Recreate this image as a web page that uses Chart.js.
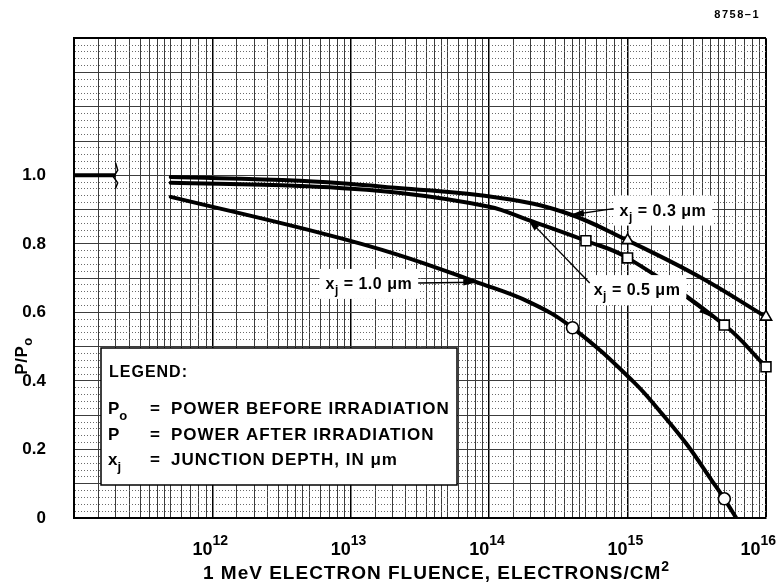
<!DOCTYPE html>
<html>
<head>
<meta charset="utf-8">
<script src="https://cdn.jsdelivr.net/npm/chart.js@4.4.1/dist/chart.umd.min.js"></script>
<style>
html,body{margin:0;padding:0;background:#fff;}
canvas{display:block;}
</style>
</head>
<body>
<canvas id="c" width="779" height="587"></canvas>
<script>
const FONT = '"Liberation Sans", Arial, Helvetica, sans-serif';

// ---- Data ----
// x_j = 0.3 um curve (fluence, P/Po)
const curve03X = [5e11, 4.3e12, 2.2e13, 1.2e14, 3.6e14, 1e15, 3.3e15, 1e16];
const curve03Y = [0.995, 0.984, 0.963, 0.934, 0.890, 0.810, 0.704, 0.587];
// x_j = 0.5 um curve
const curve05X = [5e11, 4.3e12, 2.2e13, 1e14, 1.9e14, 5e14, 1e15, 5e15, 1e16];
const curve05Y = [0.978, 0.969, 0.949, 0.908, 0.870, 0.809, 0.759, 0.563, 0.441];
// x_j = 1.0 um curve
const curve10X = [5e11, 6e12, 2.2e13, 8e13, 1.95e14, 4e14, 1.1e15, 1.8e15, 2.7e15, 4.05e15, 5e15, 6.1e15];
const curve10Y = [0.937, 0.832, 0.768, 0.689, 0.630, 0.555, 0.398, 0.301, 0.213, 0.110, 0.056, 0.0];
// measured points (markers)
const triX = [1e15, 1e16];
const triY = [0.810, 0.587];
const sqX = [5e14, 1e15, 5e15, 1e16];
const sqY = [0.809, 0.759, 0.563, 0.441];
const circX = [4e14, 5e15];
const circY = [0.555, 0.056];
// reference level 1.0 with axis-break mark
const refX = [1e11, 2.0e11];
const refY = [1.0, 1.0];
const breakX = [2.0e11, 2.07e11, 1.93e11, 2.07e11, 2.0e11];
const breakY = [1.035, 1.015, 0.995, 0.978, 0.963];

// axis ticks
const gridMultipliers = [1, 1.5, 2, 2.5, 3, 3.5, 4, 4.5, 5, 6, 7, 8, 9];
const gridDecades = [11, 12, 13, 14, 15];
const labeledExps = [12, 13, 14, 15, 16];
const yLabelValues = [0, 0.2, 0.4, 0.6, 0.8, 1.0];

// curve annotations: label, box centre (data coords), arrow tips (data coords)
const annotLabels = ['0.3', '0.5', '1.0'];
const annotBoxX = [1.8e15, 1.17e15, 1.35e13];
const annotBoxY = [0.897, 0.665, 0.683];
const annotTips = [
  [[3.84e14, 0.884, 'left']],
  [[1.88e14, 0.875, 'topleft'], [4.1e15, 0.585, 'right']],
  [[8.2e13, 0.688, 'right']]
];

// ---- build ticks ----
const xTickValues = [];
gridDecades.forEach(d => gridMultipliers.forEach(m => xTickValues.push(m * Math.pow(10, d))));
xTickValues.push(1e16);
const yTickValues = [];
for (let i = 0; i <= 70; i++) yTickValues.push(i / 50);

const pts = (xs, ys) => xs.map((x, i) => ({x: x, y: ys[i]}));

function isDecade(v) {
  const l = Math.log10(v);
  return Math.abs(l - Math.round(l)) < 1e-6;
}

function drawParts(ctx, parts, x, y, align, spacing) {
  ctx.save();
  ctx.letterSpacing = (spacing || 0) + 'px';
  ctx.textAlign = 'left';
  let total = 0;
  parts.forEach(p => {
    ctx.font = 'bold ' + p.size + 'px ' + FONT;
    p.w = ctx.measureText(p.t).width;
    total += p.w;
  });
  let cx = align === 'center' ? x - total / 2 : (align === 'right' ? x - total : x);
  parts.forEach(p => {
    ctx.font = 'bold ' + p.size + 'px ' + FONT;
    ctx.fillText(p.t, cx, y + (p.dy || 0));
    cx += p.w;
  });
  ctx.restore();
  return total;
}

function arrow(ctx, x1, y1, x2, y2, head) {
  ctx.beginPath();
  ctx.moveTo(x1, y1);
  ctx.lineTo(x2, y2);
  ctx.lineWidth = 1.4;
  ctx.strokeStyle = '#000';
  ctx.stroke();
  if (head) {
    const a = Math.atan2(y2 - y1, x2 - x1);
    const L = 14, W = 3.2;
    ctx.beginPath();
    ctx.moveTo(x2, y2);
    ctx.lineTo(x2 - L * Math.cos(a) + W * Math.sin(a), y2 - L * Math.sin(a) - W * Math.cos(a));
    ctx.lineTo(x2 - L * Math.cos(a) - W * Math.sin(a), y2 - L * Math.sin(a) + W * Math.cos(a));
    ctx.closePath();
    ctx.fillStyle = '#000';
    ctx.fill();
  }
}

const decorPlugin = {
  id: 'decor',
  afterDraw(chart) {
    const ctx = chart.ctx;
    const xs = chart.scales.x, ys = chart.scales.y;
    const ca = chart.chartArea;
    ctx.save();
    ctx.fillStyle = '#000';
    ctx.textBaseline = 'alphabetic';

    // x decade labels 10^n
    labeledExps.forEach(e => {
      let px = xs.getPixelForValue(Math.pow(10, e));
      ctx.font = 'bold 14px ' + FONT;
      const wE = ctx.measureText(String(e)).width;
      if (px + wE > chart.width - 3) px = chart.width - 3 - wE;
      ctx.font = 'bold 18px ' + FONT;
      ctx.textAlign = 'right';
      ctx.fillText('10', px, ca.bottom + 37);
      ctx.font = 'bold 14px ' + FONT;
      ctx.textAlign = 'left';
      ctx.fillText(String(e), px, ca.bottom + 27);
    });

    // x title
    drawParts(ctx, [
      {t: '1 MeV ELECTRON FLUENCE, ELECTRONS/CM', size: 19},
      {t: '2', size: 14, dy: -8}
    ], 203, ca.bottom + 61, 'left', 1);

    // y title (rotated)
    ctx.save();
    ctx.translate(21, 356);
    ctx.rotate(-Math.PI / 2);
    drawParts(ctx, [
      {t: 'P/P', size: 17},
      {t: 'o', size: 13, dy: 5}
    ], 0, 6, 'center', 0.5);
    ctx.restore();

    // figure number
    drawParts(ctx, [{t: '8758\u20131', size: 11}], 760, 18, 'right', 1.5);

    // annotations
    annotLabels.forEach((lab, i) => {
      const cx = xs.getPixelForValue(annotBoxX[i]);
      const cy = ys.getPixelForValue(annotBoxY[i]);
      const parts = [
        {t: 'x', size: 16},
        {t: 'j', size: 12, dy: 5},
        {t: ' = ' + lab + ' \u03bcm', size: 16}
      ];
      ctx.save();
      ctx.letterSpacing = '0.5px';
      let w = 0;
      parts.forEach(p => { ctx.font = 'bold ' + p.size + 'px ' + FONT; w += ctx.measureText(p.t).width; });
      ctx.restore();
      const bw = w + 12, bh = 30;
      const bx = cx - bw / 2, by = cy - bh / 2;
      ctx.fillStyle = '#fff';
      ctx.fillRect(bx, by, bw, bh);
      ctx.fillStyle = '#000';
      drawParts(ctx, parts, cx, cy + 5, 'center', 0.5);
      annotTips[i].forEach(t => {
        const tx = xs.getPixelForValue(t[0]);
        const ty = ys.getPixelForValue(t[1]);
        let sx, sy;
        if (t[2] === 'left') { sx = bx; sy = cy - 2; }
        else if (t[2] === 'topleft') { sx = bx + 2; sy = by + 8; }
        else { sx = bx + bw; sy = (i === 1) ? cy + 8 : cy - 1; }
        arrow(ctx, sx, sy, tx, ty, true);
      });
    });

    // legend box
    const lx = ca.left + 27, ly = ca.bottom - 170, lw = 356, lh = 137;
    ctx.fillStyle = '#fff';
    ctx.fillRect(lx, ly, lw, lh);
    ctx.strokeStyle = '#000';
    ctx.lineWidth = 1.5;
    ctx.strokeRect(lx, ly, lw, lh);
    ctx.fillStyle = '#000';
    drawParts(ctx, [{t: 'LEGEND:', size: 16}], lx + 8, ly + 29, 'left', 1);
    drawParts(ctx, [{t: 'P', size: 17}, {t: 'o', size: 13, dy: 6}], lx + 7, ly + 66, 'left', 0);
    drawParts(ctx, [{t: '=', size: 17}], lx + 49, ly + 66, 'left', 0);
    drawParts(ctx, [{t: 'POWER BEFORE IRRADIATION', size: 17}], lx + 70, ly + 66, 'left', 1);
    drawParts(ctx, [{t: 'P', size: 17}], lx + 7, ly + 92, 'left', 0);
    drawParts(ctx, [{t: '=', size: 17}], lx + 49, ly + 92, 'left', 0);
    drawParts(ctx, [{t: 'POWER AFTER IRRADIATION', size: 17}], lx + 70, ly + 92, 'left', 1);
    drawParts(ctx, [{t: 'x', size: 17}, {t: 'j', size: 13, dy: 6}], lx + 7, ly + 117, 'left', 0);
    drawParts(ctx, [{t: '=', size: 17}], lx + 49, ly + 117, 'left', 0);
    drawParts(ctx, [{t: 'JUNCTION DEPTH, IN \u03bcm', size: 17}], lx + 70, ly + 117, 'left', 1);

    ctx.restore();
  }
};

const lineDs = (xs, ys, w) => ({
  data: pts(xs, ys),
  showLine: true,
  borderColor: '#000',
  borderWidth: w,
  pointRadius: 0,
  pointHoverRadius: 0,
  tension: 0.4,
  borderCapStyle: 'round',
  borderJoinStyle: 'round',
  fill: false
});
const markDs = (xs, ys, style, r) => ({
  data: pts(xs, ys),
  showLine: false,
  clip: 12,
  pointStyle: style,
  pointRadius: r,
  pointBackgroundColor: '#fff',
  pointBorderColor: '#000',
  pointBorderWidth: 1.6
});

new Chart(document.getElementById('c'), {
  type: 'scatter',
  data: {
    datasets: [
      markDs(triX, triY, 'triangle', 6.5),
      markDs(sqX, sqY, 'rect', 7),
      markDs(circX, circY, 'circle', 6),
      lineDs(curve03X, curve03Y, 4),
      lineDs(curve05X, curve05Y, 4),
      lineDs(curve10X, curve10Y, 4),
      Object.assign(lineDs(refX, refY, 4), {tension: 0, borderCapStyle: 'butt'}),
      Object.assign(lineDs(breakX, breakY, 1.5), {tension: 0})
    ]
  },
  options: {
    responsive: false,
    animation: false,
    devicePixelRatio: 1,
    layout: {padding: {left: 0, top: 38, right: 13, bottom: 0}},
    plugins: {legend: {display: false}, tooltip: {enabled: false}},
    scales: {
      x: {
        type: 'logarithmic',
        min: 1e11,
        max: 1e16,
        afterBuildTicks: s => { s.ticks = xTickValues.map(v => ({value: v})); },
        afterFit: s => { s.height = 69; },
        ticks: {display: false},
        grid: {
          drawTicks: false,
          color: c => (isDecade(c.tick.value) ? '#000' : '#3c3c3c'),
          lineWidth: c => (c.tick.value >= 1e16 * 0.999 ? 2 : (isDecade(c.tick.value) ? 1.5 : 1))
        },
        border: {display: true, color: '#000', width: 2}
      },
      y: {
        min: 0,
        max: 1.4,
        afterBuildTicks: s => { s.ticks = yTickValues.map(v => ({value: v})); },
        afterFit: s => { s.width = 74; },
        ticks: {
          autoSkip: false,
          padding: 28,
          color: '#000',
          font: {family: FONT, size: 17, weight: 'bold'},
          callback: v => {
            const hit = yLabelValues.find(l => Math.abs(l - v) < 1e-6);
            if (hit === undefined) return '';
            return hit === 0 ? '0' : hit.toFixed(1);
          }
        },
        grid: {
          drawTicks: false,
          color: c => {
            const i = Math.round(c.tick.value * 50);
            if (i === 70) return '#000';
            return i % 5 === 0 ? '#3c3c3c' : '#6a6a6a';
          },
          lineWidth: c => (Math.round(c.tick.value * 50) === 70 ? 2 : 1)
        },
        border: {
          display: true, color: '#000', width: 2,
          dash: c => (c.tick && Math.round(c.tick.value * 50) % 5 !== 0 ? [1, 2] : [])
        }
      }
    }
  },
  plugins: [decorPlugin]
});
</script>
</body>
</html>
